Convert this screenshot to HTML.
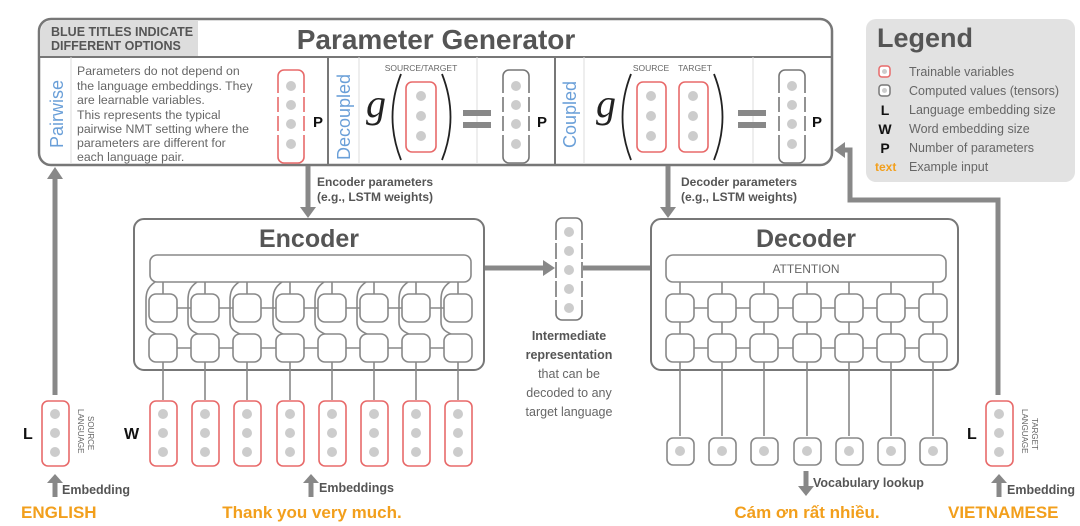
<!DOCTYPE html>
<html><head><meta charset="utf-8"><style>
html,body{margin:0;padding:0;background:#fff;}
svg{display:block;font-family:"Liberation Sans",sans-serif;}
</style></head><body>
<svg width="1080" height="526" viewBox="0 0 1080 526" xmlns="http://www.w3.org/2000/svg">
<defs>
<g id="d3"><circle cx="0" cy="414" r="5"/><circle cx="0" cy="433" r="5"/><circle cx="0" cy="452" r="5"/></g>
</defs>
<!-- Parameter generator -->
<rect x="39" y="19" width="793" height="146" rx="12" fill="#fff" stroke="#777" stroke-width="2.5"/>
<path d="M41,57 L41,31 Q41,21 51,21 L198,21 L198,57 z" fill="#ddd"/>
<line x1="39" y1="57" x2="832" y2="57" stroke="#777" stroke-width="2"/>
<text x="51" y="36" font-size="12.5" font-weight="bold" fill="#555">BLUE TITLES INDICATE</text>
<text x="51" y="50" font-size="12.5" font-weight="bold" fill="#555">DIFFERENT OPTIONS</text>
<text x="436" y="49" font-size="28" font-weight="bold" fill="#555" text-anchor="middle">Parameter Generator</text>
<line x1="328" y1="57" x2="328" y2="165" stroke="#777" stroke-width="2"/>
<line x1="555" y1="57" x2="555" y2="165" stroke="#777" stroke-width="2"/>
<g stroke="#ddd" stroke-width="1"><line x1="71" y1="57" x2="71" y2="164"/><line x1="359" y1="57" x2="359" y2="164"/><line x1="477" y1="57" x2="477" y2="164"/><line x1="584" y1="57" x2="584" y2="164"/><line x1="753" y1="57" x2="753" y2="164"/></g>
<g font-size="18" fill="#6a9fd8">
<text transform="translate(63,148) rotate(-90)">Pairwise</text>
<text transform="translate(350,160) rotate(-90)">Decoupled</text>
<text transform="translate(576,148) rotate(-90)">Coupled</text>
</g>
<g font-size="12.3" fill="#666">
<text x="77" y="75">Parameters do not depend on</text>
<text x="77" y="90">the language embeddings. They</text>
<text x="77" y="104">are learnable variables.</text>
<text x="77" y="119">This represents the typical</text>
<text x="77" y="133">pairwise NMT setting where the</text>
<text x="77" y="147">parameters are different for</text>
<text x="77" y="161">each language pair.</text>
</g>
<!-- column boxes -->
<g fill="none" stroke-width="1.6">
<rect x="278" y="70" width="26" height="93" rx="6" stroke="#e86a6a"/>
<rect x="503" y="70" width="26" height="93" rx="6" stroke="#777"/>
<rect x="779" y="70" width="26" height="93" rx="6" stroke="#777"/>
<rect x="406" y="82" width="30" height="70" rx="6" stroke="#e86a6a"/>
<rect x="637" y="82" width="29" height="70" rx="6" stroke="#e86a6a"/>
<rect x="679" y="82" width="29" height="70" rx="6" stroke="#e86a6a"/>
</g>
<g fill="#fff">
<rect x="276" y="93" width="4" height="4"/><rect x="276" y="112" width="4" height="4"/><rect x="276" y="131" width="4" height="4"/>
<rect x="302" y="93" width="4" height="4"/><rect x="302" y="112" width="4" height="4"/><rect x="302" y="131" width="4" height="4"/>
<rect x="501" y="93" width="4" height="4"/><rect x="501" y="112" width="4" height="4"/><rect x="501" y="131" width="4" height="4"/>
<rect x="527" y="93" width="4" height="4"/><rect x="527" y="112" width="4" height="4"/><rect x="527" y="131" width="4" height="4"/>
<rect x="777" y="93" width="4" height="4"/><rect x="777" y="112" width="4" height="4"/><rect x="777" y="131" width="4" height="4"/>
<rect x="803" y="93" width="4" height="4"/><rect x="803" y="112" width="4" height="4"/><rect x="803" y="131" width="4" height="4"/>
</g>
<g fill="#ccc">
<circle cx="291" cy="86" r="5"/><circle cx="291" cy="105" r="5"/><circle cx="291" cy="124" r="5"/><circle cx="291" cy="144" r="5"/>
<circle cx="516" cy="86" r="5"/><circle cx="516" cy="105" r="5"/><circle cx="516" cy="124" r="5"/><circle cx="516" cy="144" r="5"/>
<circle cx="792" cy="86" r="5"/><circle cx="792" cy="105" r="5"/><circle cx="792" cy="124" r="5"/><circle cx="792" cy="144" r="5"/>
<circle cx="421" cy="96" r="5"/><circle cx="421" cy="116" r="5"/><circle cx="421" cy="136" r="5"/>
<circle cx="651" cy="96" r="5"/><circle cx="651" cy="116" r="5"/><circle cx="651" cy="136" r="5"/>
<circle cx="693" cy="96" r="5"/><circle cx="693" cy="116" r="5"/><circle cx="693" cy="136" r="5"/>
</g>
<g font-size="15" font-weight="bold" fill="#111"><text x="313" y="127">P</text><text x="537" y="127">P</text><text x="812" y="127">P</text></g>
<g font-size="8.5" fill="#666"><text x="421" y="71" text-anchor="middle">SOURCE/TARGET</text><text x="651" y="71" text-anchor="middle">SOURCE</text><text x="695" y="71" text-anchor="middle">TARGET</text></g>
<g font-family="'Liberation Serif',serif" fill="#222">
<text x="366" y="117" font-size="40" font-style="italic">g</text>
<text x="596" y="117" font-size="40" font-style="italic">g</text>
</g>
<g fill="none" stroke="#222" stroke-width="1.8">
<path d="M401,74 Q384,117 401,160"/><path d="M442,74 Q459,117 442,160"/>
<path d="M631,74 Q614,117 631,160"/><path d="M714,74 Q731,117 714,160"/>
</g>
<g fill="#888"><rect x="463" y="110" width="28" height="6"/><rect x="463" y="122" width="28" height="6"/><rect x="738" y="110" width="28" height="6"/><rect x="738" y="122" width="28" height="6"/></g>
<!-- Legend -->
<rect x="866" y="19" width="209" height="163" rx="10" fill="#e2e2e2"/>
<text x="877" y="47" font-size="27" font-weight="bold" fill="#555">Legend</text>
<rect x="879" y="66" width="11" height="11" rx="3" fill="#fff" stroke="#e86a6a" stroke-width="1.5"/><circle cx="884.5" cy="71.5" r="2.5" fill="#ccc"/>
<rect x="879" y="85" width="11" height="11" rx="3" fill="#fff" stroke="#777" stroke-width="1.5"/><circle cx="884.5" cy="90.5" r="2.5" fill="#ccc"/>
<g font-size="14" font-weight="bold" fill="#111" text-anchor="middle"><text x="885" y="115">L</text><text x="885" y="134">W</text><text x="885" y="153">P</text></g>
<text x="875" y="171" font-size="12" font-weight="bold" fill="#f29f1c">text</text>
<g font-size="12.5" fill="#666"><text x="909" y="76">Trainable variables</text><text x="909" y="95">Computed values (tensors)</text><text x="909" y="114">Language embedding size</text><text x="909" y="133">Word embedding size</text><text x="909" y="152">Number of parameters</text><text x="909" y="171">Example input</text></g>
<!-- param arrows -->
<g stroke="#888" stroke-width="5" fill="none">
<line x1="308" y1="166" x2="308" y2="208"/>
<line x1="668" y1="166" x2="668" y2="208"/>
<line x1="55" y1="395" x2="55" y2="178"/>
<polyline points="998,395 998,200 850,200 850,150 842,150"/>
<line x1="471" y1="268" x2="544" y2="268"/>
<line x1="583" y1="268" x2="654" y2="268"/>
</g>
<g fill="#888">
<path d="M300,207 L316,207 L308,218 z"/><path d="M660,207 L676,207 L668,218 z"/>
<path d="M47,179 L63,179 L55,167 z"/>
<path d="M845,142 L845,158 L834,150 z"/>
<path d="M543,260 L543,276 L555,268 z"/><path d="M653,260 L653,276 L665,268 z"/>
</g>
<g font-size="12" font-weight="bold" fill="#555">
<text x="317" y="186">Encoder parameters</text><text x="317" y="201">(e.g., LSTM weights)</text>
<text x="681" y="186">Decoder parameters</text><text x="681" y="201">(e.g., LSTM weights)</text>
</g>
<!-- Encoder -->
<rect x="134" y="219" width="350" height="151" rx="10" fill="#fff" stroke="#777" stroke-width="2"/>
<text x="309" y="247" font-size="25" font-weight="bold" fill="#555" text-anchor="middle">Encoder</text>
<g stroke="#888" stroke-width="1.6" fill="#fff">
<path d="M163,282 v12 M205,282 v12 M247,282 v12 M290,282 v12 M332,282 v12 M374,282 v12 M416,282 v12 M458,282 v12" />
<path d="M163,362 v38 M205,362 v38 M247,362 v38 M290,362 v38 M332,362 v38 M374,362 v38 M416,362 v38 M458,362 v38"/>
<path d="M177,308 h14 M219,308 h14 M261,308 h15 M304,308 h14 M346,308 h14 M388,308 h14 M430,308 h14" />
<path d="M177,348 h14 M219,348 h14 M261,348 h15 M304,348 h14 M346,348 h14 M388,348 h14 M430,348 h14" />
<g fill="none">
<path d="M155,282 C148,287 146,292 146,300 L146,322 C146,330 152,332 156,334"/>
<path d="M197,282 C190,287 188,292 188,300 L188,322 C188,330 194,332 198,334"/>
<path d="M239,282 C232,287 230,292 230,300 L230,322 C230,330 236,332 240,334"/>
<path d="M282,282 C275,287 273,292 273,300 L273,322 C273,330 279,332 283,334"/>
<path d="M324,282 C317,287 315,292 315,300 L315,322 C315,330 321,332 325,334"/>
<path d="M366,282 C359,287 357,292 357,300 L357,322 C357,330 363,332 367,334"/>
<path d="M408,282 C401,287 399,292 399,300 L399,322 C399,330 405,332 409,334"/>
<path d="M450,282 C443,287 441,292 441,300 L441,322 C441,330 447,332 451,334"/>
</g>
<rect x="150" y="255" width="321" height="27" rx="7"/>
<rect x="149" y="294" width="28" height="28" rx="7"/><rect x="191" y="294" width="28" height="28" rx="7"/><rect x="233" y="294" width="28" height="28" rx="7"/><rect x="276" y="294" width="28" height="28" rx="7"/><rect x="318" y="294" width="28" height="28" rx="7"/><rect x="360" y="294" width="28" height="28" rx="7"/><rect x="402" y="294" width="28" height="28" rx="7"/><rect x="444" y="294" width="28" height="28" rx="7"/>
<rect x="149" y="334" width="28" height="28" rx="7"/><rect x="191" y="334" width="28" height="28" rx="7"/><rect x="233" y="334" width="28" height="28" rx="7"/><rect x="276" y="334" width="28" height="28" rx="7"/><rect x="318" y="334" width="28" height="28" rx="7"/><rect x="360" y="334" width="28" height="28" rx="7"/><rect x="402" y="334" width="28" height="28" rx="7"/><rect x="444" y="334" width="28" height="28" rx="7"/>
</g>
<!-- word embeddings -->
<g fill="#fff" stroke="#e86a6a" stroke-width="1.6">
<rect x="150" y="401" width="27" height="65" rx="6"/><rect x="192" y="401" width="27" height="65" rx="6"/><rect x="234" y="401" width="27" height="65" rx="6"/><rect x="277" y="401" width="27" height="65" rx="6"/><rect x="319" y="401" width="27" height="65" rx="6"/><rect x="361" y="401" width="27" height="65" rx="6"/><rect x="403" y="401" width="27" height="65" rx="6"/><rect x="445" y="401" width="27" height="65" rx="6"/>
<rect x="42" y="401" width="27" height="65" rx="6"/><rect x="986" y="401" width="27" height="65" rx="6"/>
</g>
<g fill="#ccc">
<use href="#d3" x="55"/><use href="#d3" x="163"/><use href="#d3" x="205"/><use href="#d3" x="247"/><use href="#d3" x="290"/><use href="#d3" x="332"/><use href="#d3" x="374"/><use href="#d3" x="416"/><use href="#d3" x="458"/><use href="#d3" x="999"/>
</g>
<g font-size="16" font-weight="bold" fill="#111"><text x="23" y="439">L</text><text x="124" y="439">W</text><text x="967" y="439">L</text></g>
<g font-size="8" fill="#666">
<text transform="translate(88,416) rotate(90)">SOURCE</text><text transform="translate(78,409) rotate(90)">LANGUAGE</text>
<text transform="translate(1032,418) rotate(90)">TARGET</text><text transform="translate(1022,409) rotate(90)">LANGUAGE</text>
</g>
<!-- intermediate -->
<rect x="556" y="218" width="26" height="102" rx="6" fill="#fff" stroke="#777" stroke-width="1.6"/>
<g fill="#fff">
<rect x="554" y="240" width="4" height="3"/><rect x="554" y="259" width="4" height="3"/><rect x="554" y="278" width="4" height="3"/><rect x="554" y="297" width="4" height="3"/>
<rect x="580" y="240" width="4" height="3"/><rect x="580" y="259" width="4" height="3"/><rect x="580" y="278" width="4" height="3"/><rect x="580" y="297" width="4" height="3"/>
</g>
<g fill="#ccc"><circle cx="569" cy="232" r="5"/><circle cx="569" cy="251" r="5"/><circle cx="569" cy="270" r="5"/><circle cx="569" cy="289" r="5"/><circle cx="569" cy="308" r="5"/></g>
<g font-size="12.5" text-anchor="middle" fill="#666">
<text x="569" y="340" font-weight="bold" fill="#555">Intermediate</text>
<text x="569" y="359" font-weight="bold" fill="#555">representation</text>
<text x="569" y="378">that can be</text><text x="569" y="397">decoded to any</text><text x="569" y="416">target language</text>
</g>
<!-- Decoder -->
<rect x="651" y="219" width="307" height="151" rx="10" fill="#fff" stroke="#777" stroke-width="2"/>
<text x="806" y="247" font-size="25" font-weight="bold" fill="#555" text-anchor="middle">Decoder</text>
<g stroke="#888" stroke-width="1.6" fill="#fff">
<path d="M680,282 V436 M722,282 V436 M764,282 V436 M807,282 V436 M849,282 V436 M891,282 V436 M933,282 V436" fill="none"/>
<path d="M694,308 h14 M736,308 h14 M778,308 h15 M821,308 h14 M863,308 h14 M905,308 h14 M694,348 h14 M736,348 h14 M778,348 h15 M821,348 h14 M863,348 h14 M905,348 h14"/>
<rect x="666" y="255" width="280" height="27" rx="7"/>
<rect x="666" y="294" width="28" height="28" rx="7"/><rect x="708" y="294" width="28" height="28" rx="7"/><rect x="750" y="294" width="28" height="28" rx="7"/><rect x="793" y="294" width="28" height="28" rx="7"/><rect x="835" y="294" width="28" height="28" rx="7"/><rect x="877" y="294" width="28" height="28" rx="7"/><rect x="919" y="294" width="28" height="28" rx="7"/>
<rect x="666" y="334" width="28" height="28" rx="7"/><rect x="708" y="334" width="28" height="28" rx="7"/><rect x="750" y="334" width="28" height="28" rx="7"/><rect x="793" y="334" width="28" height="28" rx="7"/><rect x="835" y="334" width="28" height="28" rx="7"/><rect x="877" y="334" width="28" height="28" rx="7"/><rect x="919" y="334" width="28" height="28" rx="7"/>
<rect x="667" y="438" width="27" height="27" rx="6"/><rect x="709" y="438" width="27" height="27" rx="6"/><rect x="751" y="438" width="27" height="27" rx="6"/><rect x="794" y="438" width="27" height="27" rx="6"/><rect x="836" y="438" width="27" height="27" rx="6"/><rect x="878" y="438" width="27" height="27" rx="6"/><rect x="920" y="438" width="27" height="27" rx="6"/>
</g>
<text x="806" y="273" font-size="12" fill="#666" text-anchor="middle">ATTENTION</text>
<g fill="#ccc"><circle cx="680" cy="451" r="5"/><circle cx="722" cy="451" r="5"/><circle cx="764" cy="451" r="5"/><circle cx="807" cy="451" r="5"/><circle cx="849" cy="451" r="5"/><circle cx="891" cy="451" r="5"/><circle cx="933" cy="451" r="5"/></g>
<!-- bottom arrows -->
<g stroke="#888" stroke-width="5"><line x1="55" y1="497" x2="55" y2="482"/><line x1="311" y1="497" x2="311" y2="482"/><line x1="999" y1="497" x2="999" y2="482"/><line x1="806" y1="471" x2="806" y2="487"/></g>
<g fill="#888"><path d="M47,483 L63,483 L55,474 z"/><path d="M303,483 L319,483 L311,474 z"/><path d="M991,483 L1007,483 L999,474 z"/><path d="M798,486 L814,486 L806,496 z"/></g>
<g font-size="12.5" font-weight="bold" fill="#555"><text x="62" y="494">Embedding</text><text x="319" y="492">Embeddings</text><text x="1007" y="494">Embedding</text><text x="813" y="487">Vocabulary lookup</text></g>
<g font-size="17" font-weight="bold" fill="#f29f1c">
<text x="21" y="518">ENGLISH</text>
<text x="312" y="518" text-anchor="middle">Thank you very much.</text>
<text x="807" y="518" text-anchor="middle">Cám ơn rất nhiều.</text>
<text x="948" y="518">VIETNAMESE</text>
</g>
</svg>
</body></html>
